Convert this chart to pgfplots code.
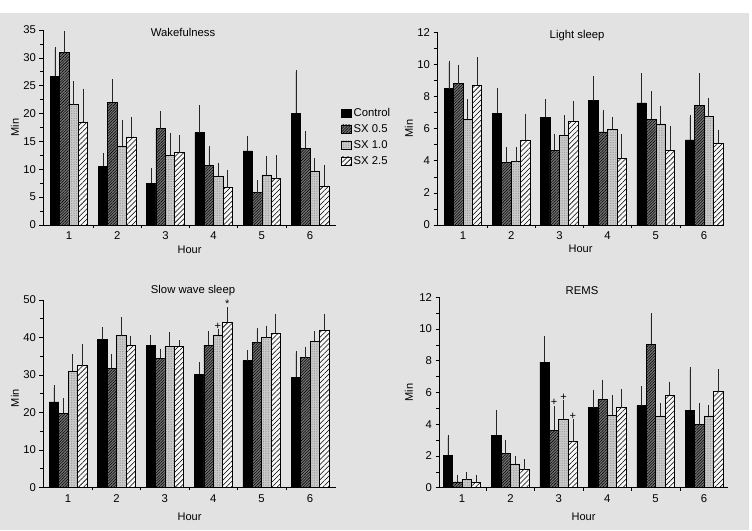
\documentclass[border=0pt]{standalone}
\usepackage{pgfplots}
\pgfplotsset{compat=1.18}
\usepackage{pgfplotstable}
\usepackage{fontspec}
\setmainfont{Liberation Sans}
\usetikzlibrary{patterns.meta}

\definecolor{panelbg}{RGB}{226,226,226}

% columns: hour, mean and SEM for Control, SX 0.5, SX 1.0, SX 2.5
\pgfplotstableread{
h  c     ce    a     ae    b     be    d     de
1  26.7  4.9   31.0  3.5   21.6  3.8   18.5  5.6
2  10.5  2.0   22.0  3.8   14.1  4.4   15.8  3.2
3  7.5   2.4   17.3  2.8   12.5  3.6   13.0  2.7
4  16.6  4.5   10.7  3.0   8.8   2.0   6.7   2.8
5  13.3  2.2   5.8   1.8   9.0   3.0   8.3   3.8
6  20.1  7.3   13.8  2.7   9.7   1.9   7.0   3.3
}\wake
\pgfplotstableread{
h  c     ce    a     ae    b     be    d     de
1  8.5   1.6   8.8   1.05  6.6   1.1   8.7   1.6
2  6.95  1.45  3.9   0.8   3.95  0.75  5.3   1.5
3  6.7   1.0   4.65  0.85  5.6   1.1   6.45  1.15
4  7.75  1.4   5.8   1.25  5.95  0.65  4.15  1.35
5  7.6   1.7   6.6   1.6   6.3   1.0   4.65  1.35
6  5.3   1.4   7.45  1.85  6.75  1.05  5.1   0.7
}\light
\pgfplotstableread{
h  c     ce    a     ae    b     be    d     de
1  22.8  3.8   19.75 3.45  31.0  4.1   32.5  5.1
2  39.4  2.8   31.8  3.3   40.5  4.3   37.9  2.0
3  37.9  2.1   34.4  2.0   37.6  3.3   37.6  1.1
4  30.2  2.6   37.9  3.2   40.7  1.1   44.0  3.5
5  33.8  2.2   38.6  3.4   40.0  2.6   41.1  4.5
6  29.4  6.5   34.6  2.4   39.0  2.1   41.9  3.7
}\sws
\pgfplotstableread{
h  c     ce    a     ae    b     be    d     de
1  2.04  1.16  0.36  0.31  0.50  0.38  0.34  0.33
2  3.30  1.43  2.14  0.72  1.50  0.37  1.13  0.53
3  7.92  1.49  3.63  1.37  4.30  1.10  2.90  1.30
4  5.04  0.99  5.57  1.11  4.56  1.15  5.04  1.05
5  5.17  1.07  9.03  1.85  4.52  0.69  5.82  0.73
6  4.87  2.59  4.01  1.20  4.52  0.54  6.05  1.30
}\rems

\pgfplotsset{
  panel/.style={
    scale only axis, anchor=south west, clip=false,
    ybar=0pt, bar width=9.4pt, ymin=0,
    axis x line*=bottom, axis y line*=left,
    axis line style={line width=0.8pt, -},
    xtick={1,...,6}, minor xtick={1.5,2.5,...,5.5},
    major x tick style={draw=none},
    minor tick length=3pt, major tick length=3.5pt,
    tick align=outside, minor y tick num=1,
    tick style={line width=0.6pt, black},
    font=\fontsize{11}{13}\selectfont,
    ticklabel style={font=\fontsize{11.3}{13}\selectfont},
    /pgf/number format/assume math mode=true,
    xlabel={Hour}, ylabel={Min},
    every axis title shift=0pt,
    title style={anchor=center, font=\fontsize{11.3}{13}\selectfont},
    every axis plot/.append style={draw=black, line width=0.6pt},
    error bars/error bar style={draw=black!85, line width=0.6pt},
    error bars/error mark options={draw=black!85, mark size=2.2pt, line width=0.6pt},
  },
  ctl/.style={fill=black},
  sxa/.style={fill=black!55, postaction={pattern={Lines[angle=45,distance=2pt,line width=0.55pt]}, pattern color=black}},
  sxb/.style={fill=black!20, postaction={pattern={Dots[distance=1.7pt,radius=0.38pt]}, pattern color=black!50}},
  sxc/.style={fill=black!3, postaction={pattern={Lines[angle=45,distance=3.6pt,line width=0.55pt]}, pattern color=black}},
  err/.style={error bars/.cd, y dir=plus, y explicit},
}

\begin{document}
\begin{tikzpicture}
\useasboundingbox (0pt,0pt) rectangle (752pt,530pt);
\fill[white] (0pt,0pt) rectangle (752pt,530pt);
\fill[panelbg] (0pt,0pt) rectangle (749pt,517pt);

% Wakefulness
\begin{axis}[panel, at={(43pt,305pt)}, width=293pt, height=195pt,
  xmin=0.461, xmax=6.539, ymax=35, ytick={0,5,...,35},
  title={Wakefulness}, title style={at={(rel axis cs:0.478,0.986)}},
  xlabel style={at={(rel axis cs:0.5,-0.128)}, anchor=center},
  ylabel style={at={(rel axis cs:-0.0956,0.5)}, anchor=center},
  legend style={at={(rel axis cs:1.017,0.61)}, anchor=north west, draw=none, fill=none,
    inner sep=0pt, row sep=2.6pt, font=\fontsize{11.3}{13}\selectfont},
  legend cell align=left,
  legend image code/.code={\draw[#1, line width=0.5pt] (0pt,-4.3pt) rectangle (10pt,4.3pt);},
]
\addplot[ctl, err] table[x=h, y=c, y error=ce] {\wake};
\addplot[sxa, err] table[x=h, y=a, y error=ae] {\wake};
\addplot[sxb, err] table[x=h, y=b, y error=be] {\wake};
\addplot[sxc, err] table[x=h, y=d, y error=de] {\wake};
\legend{Control, SX 0.5, SX 1.0, SX 2.5}
\end{axis}

% Light sleep
\begin{axis}[panel, at={(437pt,305pt)}, width=287pt, height=192.7pt,
  xmin=0.461, xmax=6.415, ymax=12, ytick={0,2,...,12},
  title={Light sleep}, title style={at={(rel axis cs:0.488,0.982)}},
  xlabel style={at={(rel axis cs:0.5,-0.125)}, anchor=center},
  ylabel style={at={(rel axis cs:-0.0976,0.5)}, anchor=center},
]
\addplot[ctl, err] table[x=h, y=c, y error=ce] {\light};
\addplot[sxa, err] table[x=h, y=a, y error=ae] {\light};
\addplot[sxb, err] table[x=h, y=b, y error=be] {\light};
\addplot[sxc, err] table[x=h, y=d, y error=de] {\light};
\end{axis}

% Slow wave sleep
\begin{axis}[panel, at={(43pt,42.7pt)}, width=293pt, height=187.3pt,
  xmin=0.483, xmax=6.537, ymax=50, ytick={0,10,...,50},
  title={Slow wave sleep}, title style={at={(rel axis cs:0.512,1.05)}},
  xlabel style={at={(rel axis cs:0.5,-0.159)}, anchor=center},
  ylabel style={at={(rel axis cs:-0.0956,0.476)}, anchor=center},
]
\addplot[ctl, err] table[x=h, y=c, y error=ce] {\sws};
\addplot[sxa, err] table[x=h, y=a, y error=ae] {\sws};
\addplot[sxb, err] table[x=h, y=b, y error=be] {\sws};
\addplot[sxc, err] table[x=h, y=d, y error=de] {\sws};
\node[font=\fontsize{11}{13}\selectfont] at (axis cs:4.097,43.1) {+};
\node[font=\fontsize{11}{13}\selectfont] at (axis cs:4.291,49.1) {*};
\end{axis}

% REMS
\begin{axis}[panel, at={(439pt,42.3pt)}, width=289pt, height=190.4pt,
  xmin=0.525, xmax=6.496, ymax=12, ytick={0,2,...,12},
  title={REMS}, title style={at={(rel axis cs:0.495,1.035)}},
  xlabel style={at={(rel axis cs:0.5,-0.153)}, anchor=center},
  ylabel style={at={(rel axis cs:-0.104,0.5)}, anchor=center},
]
\addplot[ctl, err] table[x=h, y=c, y error=ce] {\rems};
\addplot[sxa, err] table[x=h, y=a, y error=ae] {\rems};
\addplot[sxb, err] table[x=h, y=b, y error=be] {\rems};
\addplot[sxc, err] table[x=h, y=d, y error=de] {\rems};
\node[font=\fontsize{11}{13}\selectfont] at (axis cs:2.903,5.38) {+};
\node[font=\fontsize{11}{13}\selectfont] at (axis cs:3.097,5.70) {+};
\node[font=\fontsize{11}{13}\selectfont] at (axis cs:3.291,4.47) {+};
\end{axis}
\end{tikzpicture}
\end{document}
